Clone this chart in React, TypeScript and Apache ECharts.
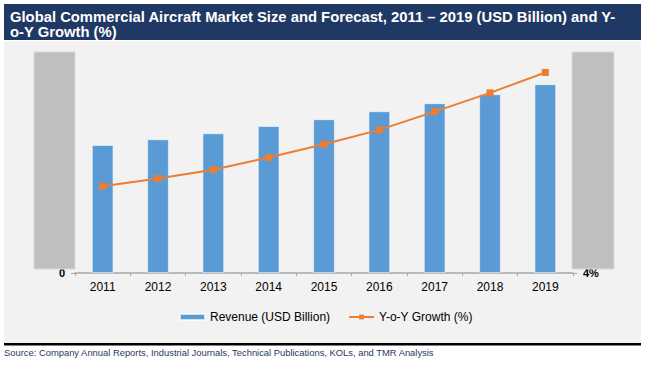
import React, { useEffect, useRef } from "react";
import * as echarts from "echarts";

const years = ["2011", "2012", "2013", "2014", "2015", "2016", "2017", "2018", "2019"];
const revenue = [144.8, 151.2, 158.0, 166.3, 173.9, 182.9, 192.0, 202.1, 213.5];
const growth = [5.57, 5.71, 5.87, 6.09, 6.33, 6.59, 6.92, 7.26, 7.63];
const titleText = "Global Commercial Aircraft Market Size and Forecast, 2011 \u2013 2019 (USD Billion) and Y-\no-Y Growth (%)";
const sourceText = "Source: Company Annual Reports, Industrial Journals, Technical Publications, KOLs, and TMR Analysis";

const FONT = "'Liberation Sans', Arial, sans-serif";

export default function App() {
  const ref = useRef<HTMLDivElement>(null);
  useEffect(() => {
    if (!ref.current) return;
    const chart = echarts.init(ref.current, null, { renderer: "svg" });
    chart.setOption({
      animation: false,
      backgroundColor: "#ffffff",
      textStyle: { fontFamily: FONT },
      title: {
        text: titleText,
        left: 5,
        top: 4,
        textStyle: { color: "#ffffff", fontSize: 14.8, fontWeight: "bold", fontFamily: FONT, lineHeight: 15 },
        z: 10,
      },
      grid: { left: 75, right: 77, top: 52, bottom: 94, containLabel: false },
      legend: {
        left: 174,
        top: 306,
        itemGap: 18,
        itemWidth: 25,
        itemHeight: 6,
        textStyle: { color: "#000000", fontSize: 12, fontFamily: FONT },
        data: [
          { name: "Revenue (USD Billion)", icon: "rect" },
          { name: "Y-o-Y Growth (%)" },
        ],
      },
      xAxis: {
        type: "category",
        data: years,
        boundaryGap: true,
        axisLine: { show: true, lineStyle: { color: "#a6a6a6", width: 1.5 } },
        axisTick: { show: true, length: 3, lineStyle: { color: "#a6a6a6" } },
        axisLabel: { color: "#000000", fontSize: 12, margin: 8, fontFamily: FONT },
      },
      yAxis: [
        {
          type: "value",
          min: 0,
          max: 250,
          interval: 250,
          splitLine: { show: false },
          axisLine: { show: false },
          axisTick: { show: true, length: 4, lineStyle: { color: "#a6a6a6" } },
          axisLabel: {
            color: "#000000",
            fontSize: 11,
            fontWeight: "bold",
            margin: 10,
            formatter: (v: number) => (v === 0 ? "0" : ""),
          },
        },
        {
          type: "value",
          min: 4,
          max: 8,
          interval: 4,
          position: "right",
          splitLine: { show: false },
          axisLine: { show: false },
          axisTick: { show: true, length: 4, lineStyle: { color: "#a6a6a6" } },
          axisLabel: {
            color: "#000000",
            fontSize: 11,
            fontWeight: "bold",
            margin: 10,
            formatter: (v: number) => (v === 4 ? "4%" : ""),
          },
        },
      ],
      series: [
        {
          name: "Revenue (USD Billion)",
          type: "bar",
          data: revenue,
          barWidth: "39%",
          itemStyle: { color: "#5B9BD5", borderColor: "rgba(255,255,255,0.7)", borderWidth: 0.8 },
          z: 2,
        },
        {
          name: "Y-o-Y Growth (%)",
          type: "line",
          yAxisIndex: 1,
          data: growth,
          symbol: "rect",
          symbolSize: 7,
          lineStyle: { color: "#ED7D31", width: 2 },
          itemStyle: { color: "#ED7D31" },
          z: 3,
        },
      ],
      graphic: [
        { type: "rect", z: -10, shape: { x: 4, y: 4, width: 637, height: 36 }, style: { fill: "#1F3864" } },
        { type: "rect", z: -10, shape: { x: 4, y: 41, width: 637, height: 302 }, style: { fill: "#F2F2F2" } },
        { type: "rect", z: 1, shape: { x: 4, y: 343, width: 637, height: 2.5 }, style: { fill: "#000000" } },
        { type: "rect", z: 100, shape: { x: 34, y: 52, width: 41, height: 217 }, style: { fill: "#BFBFBF", stroke: "#D9D9D9", lineWidth: 1 } },
        { type: "rect", z: 100, shape: { x: 572, y: 52, width: 42, height: 217 }, style: { fill: "#BFBFBF", stroke: "#D9D9D9", lineWidth: 1 } },
        {
          type: "text",
          z: 10,
          x: 4,
          y: 348,
          style: { text: sourceText, fill: "#1F3864", fontSize: 9.4, fontFamily: FONT },
        },
      ],
    });
    return () => chart.dispose();
  }, []);
  return <div ref={ref} style={{ position: "fixed", left: 0, top: 0, width: 650, height: 367 }} />;
}
